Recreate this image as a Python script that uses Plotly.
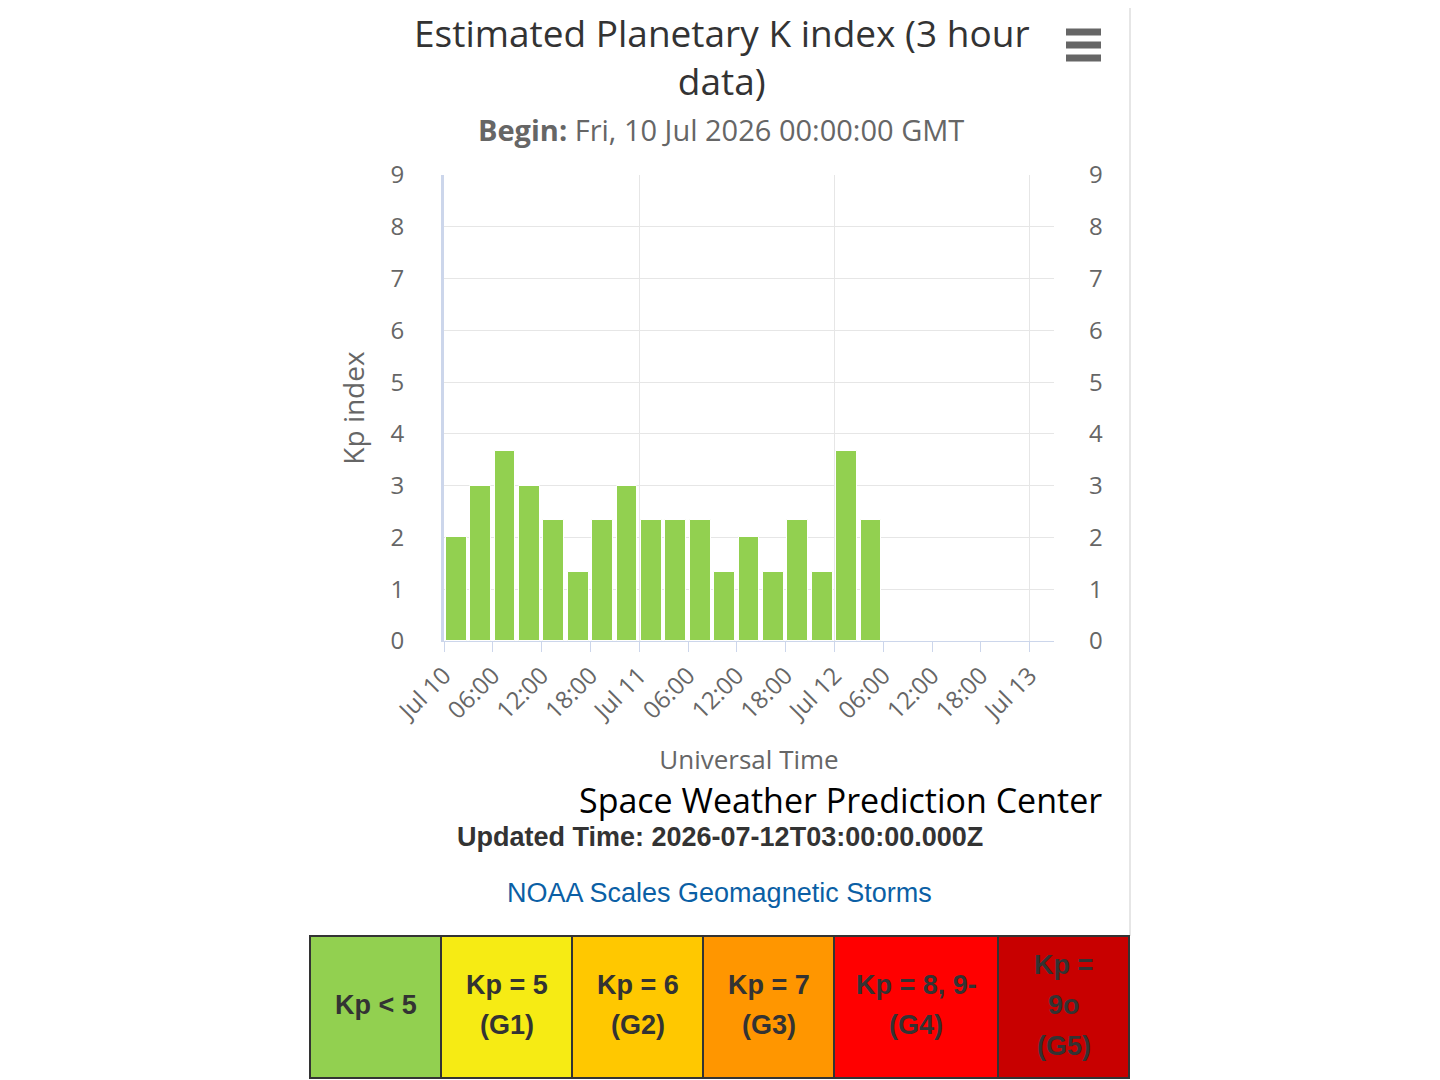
"""Estimated Planetary K index (3 hour data) - SWPC style Kp bar chart."""

import plotly.graph_objects as go

# --- data ------------------------------------------------------------------
kp_times = [
    "2026-07-10 00:00", "2026-07-10 03:00", "2026-07-10 06:00", "2026-07-10 09:00",
    "2026-07-10 12:00", "2026-07-10 15:00", "2026-07-10 18:00", "2026-07-10 21:00",
    "2026-07-11 00:00", "2026-07-11 03:00", "2026-07-11 06:00", "2026-07-11 09:00",
    "2026-07-11 12:00", "2026-07-11 15:00", "2026-07-11 18:00", "2026-07-11 21:00",
    "2026-07-12 00:00", "2026-07-12 03:00",
]
kp_values = [2.0, 3.0, 3.67, 3.0, 2.33, 1.33, 2.33, 3.0, 2.33,
             2.33, 2.33, 1.33, 2.0, 1.33, 2.33, 1.33, 3.67, 2.33]

tick_times = [
    "2026-07-10 00:00", "2026-07-10 06:00", "2026-07-10 12:00", "2026-07-10 18:00",
    "2026-07-11 00:00", "2026-07-11 06:00", "2026-07-11 12:00", "2026-07-11 18:00",
    "2026-07-12 00:00", "2026-07-12 06:00", "2026-07-12 12:00", "2026-07-12 18:00",
    "2026-07-13 00:00",
]
tick_labels = ["Jul 10", "06:00", "12:00", "18:00", "Jul 11", "06:00", "12:00",
               "18:00", "Jul 12", "06:00", "12:00", "18:00", "Jul 13"]
day_times = ["2026-07-10 00:00", "2026-07-11 00:00", "2026-07-12 00:00", "2026-07-13 00:00"]
x_range = ["2026-07-10 00:00", "2026-07-13 03:00"]
kp_ticks = list(range(10))

scale_labels = [["Kp < 5"], ["Kp = 5", "(G1)"], ["Kp = 6", "(G2)"], ["Kp = 7", "(G3)"],
                ["Kp = 8, 9-", "(G4)"], ["Kp =", "9o", "(G5)"]]
scale_colors = ["#92d050", "#f6eb14", "#ffc800", "#ff9600", "#ff0000", "#c80000"]
scale_edges = [310, 441, 572, 703, 834, 998, 1129]  # page pixel columns of the table

# --- geometry helpers --------------------------------------------------------
# the page body has an 8px margin, so page pixels are shifted by OFF
OFF = 8
W, H = 1440 - OFF, 1080 - OFF
PL, PR, PT, PB = 444 - OFF, 1054 - OFF, 175 - OFF, 641 - OFF


def px(x):
    """page x pixel -> paper coordinate"""
    return (x - OFF - PL) / (PR - PL)


def py(y):
    """page y pixel -> paper coordinate"""
    return (PB - (y - OFF)) / (PB - PT)


FONT = "Open Sans, DejaVu Sans, sans-serif"
ARIAL = "Liberation Sans, Arial, sans-serif"
THREE_H = 3 * 3600 * 1000

fig = go.Figure()
fig.add_trace(go.Bar(
    x=kp_times, y=kp_values,
    xperiod=THREE_H, xperiodalignment="middle",
    width=THREE_H * 0.85,
    marker=dict(color="#92d050", line=dict(color="#ffffff", width=1)),
    name="Kp", showlegend=False,
))
# invisible helpers so the overlay axes (day grid, right-hand labels) get drawn
fig.add_trace(go.Scatter(x=day_times, y=[None] * len(day_times), xaxis="x2", yaxis="y",
                         mode="markers", showlegend=False, hoverinfo="skip"))
fig.add_trace(go.Scatter(x=kp_times[:1], y=[None], xaxis="x", yaxis="y2",
                         mode="markers", showlegend=False, hoverinfo="skip"))

fig.update_layout(
    width=W, height=H,
    margin=dict(l=PL, r=W - PR, t=PT, b=H - PB, pad=0),
    paper_bgcolor="white", plot_bgcolor="white",
    font=dict(family=FONT, color="#666666"),
    bargap=0,
    xaxis=dict(
        type="date", range=x_range,
        tickmode="array", tickvals=tick_times, ticktext=tick_labels,
        tickangle=-45, tickfont=dict(size=24, color="#666666"),
        ticks="outside", ticklen=10, tickcolor="#ccd6eb",
        showline=True, linecolor="#ccd6eb", linewidth=1,
        showgrid=False, zeroline=False,
        title=dict(text="Universal Time", font=dict(size=26, color="#666666"), standoff=25),
    ),
    xaxis2=dict(
        type="date", range=x_range, overlaying="x", anchor="y",
        tickmode="array", tickvals=day_times, showticklabels=False, ticks="",
        showgrid=True, gridcolor="#e6e6e6", gridwidth=1, zeroline=False, showline=False,
    ),
    yaxis=dict(
        range=[0, 9], tickmode="array", tickvals=kp_ticks,
        tickfont=dict(size=24, color="#666666"), ticklabelstandoff=32,
        showgrid=True, gridcolor="#e6e6e6", gridwidth=1, zeroline=False,
        showline=True, linecolor="#ccd6eb", linewidth=3,
        title=dict(text="Kp index", font=dict(size=28, color="#666666"), standoff=18),
    ),
    yaxis2=dict(
        range=[0, 9], tickmode="array", tickvals=kp_ticks, overlaying="y", side="right",
        anchor="x", tickfont=dict(size=24, color="#666666"), ticklabelstandoff=34,
        showgrid=False, zeroline=False, showline=False,
    ),
)

# titles and footer texts (page pixel centres)
texts = [
    ("Estimated Planetary K index (3 hour<br>data)", 722, 56, 37, "#333333", FONT),
    ("<b>Begin:</b> Fri, 10 Jul 2026 00:00:00 GMT", 721, 129, 29, "#666666", FONT),
    ("Space Weather Prediction Center", 840, 800, 34, "#000000", FONT),
    ("<b>Updated Time: 2026-07-12T03:00:00.000Z</b>", 720, 837, 27, "#333333", ARIAL),
    ("NOAA Scales Geomagnetic Storms", 719, 893, 27, "#0b5fa5", ARIAL),
]
for txt, x, y, size, color, fam in texts:
    fig.add_annotation(text=txt, x=px(x), y=py(y), xref="paper", yref="paper",
                       xanchor="center", yanchor="middle", showarrow=False,
                       borderpad=0, font=dict(size=size, color=color, family=fam))

# page border on the right
fig.add_shape(type="line", xref="paper", yref="paper", x0=px(1130), x1=px(1130),
              y0=py(0), y1=py(936), line=dict(color="#e6e6e6", width=2))

# export (hamburger) menu icon
for yy in (32, 45, 58):
    fig.add_shape(type="line", xref="paper", yref="paper", x0=px(1066), x1=px(1101),
                  y0=py(yy), y1=py(yy), line=dict(color="#666666", width=7))

# NOAA scale table, lines spaced like the original html table
LINE = 40.5
for i, (lines, col) in enumerate(zip(scale_labels, scale_colors)):
    x0, x1 = scale_edges[i], scale_edges[i + 1]
    fig.add_shape(type="rect", xref="paper", yref="paper", x0=px(x0), x1=px(x1),
                  y0=py(1078), y1=py(936), fillcolor=col,
                  line=dict(color="#333333", width=2), layer="above")
    for k, lab in enumerate(lines):
        yy = 1005 + (k - (len(lines) - 1) / 2) * LINE
        fig.add_annotation(text=f"<b>{lab}</b>", x=px((x0 + x1) / 2), y=py(yy),
                           xref="paper", yref="paper", xanchor="center", yanchor="middle",
                           showarrow=False, borderpad=0,
                           font=dict(size=27, color="#333333", family=ARIAL))

fig.write_html("out.html")
